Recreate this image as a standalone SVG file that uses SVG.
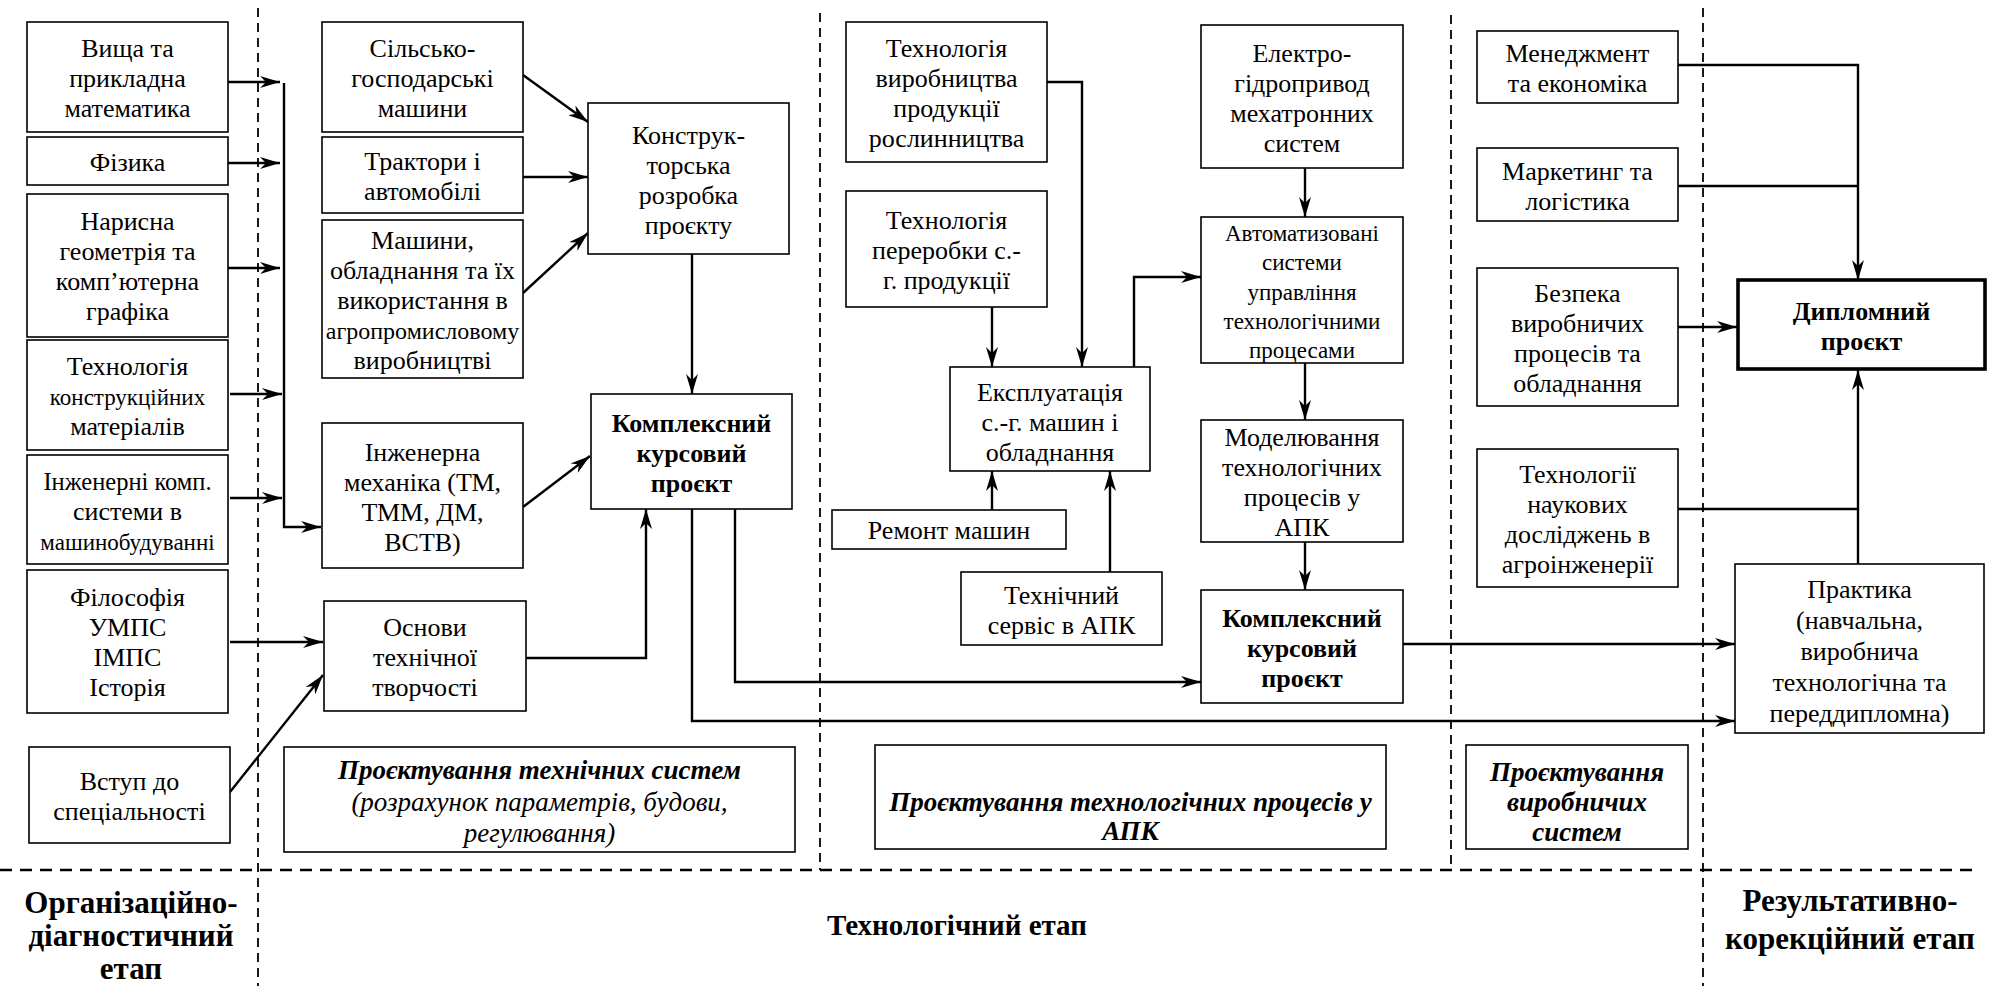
<svg xmlns="http://www.w3.org/2000/svg" width="1993" height="986" viewBox="0 0 1993 986">
<style>
.bg{fill:#fff}
.box{fill:#fff;stroke:#000;stroke-width:1.6}
.thick{stroke-width:3.6}
.t{font-family:"Liberation Serif","Times New Roman",serif;font-size:26px;text-anchor:middle;fill:#000}
.b{font-weight:bold}
.i{font-style:italic}
.s{font-size:23px}
.it{font-size:27px}
.lab{font-size:29px;font-weight:bold}
.lab2{font-size:31px;font-weight:bold}
.c{fill:none;stroke:#000;stroke-width:2.4}
.dv{fill:none;stroke:#000;stroke-width:1.8;stroke-dasharray:9 6}
.dh{fill:none;stroke:#000;stroke-width:2.4;stroke-dasharray:12 8}
</style>
<defs>
<marker id="ah" viewBox="0 0 20 12" refX="20" refY="6" markerWidth="20" markerHeight="12" markerUnits="userSpaceOnUse" orient="auto">
<path d="M0,0 L20,6 L0,12 L6,6 Z" fill="#000"/>
</marker>
</defs>
<rect class="bg" x="0" y="0" width="1993" height="986"/>

<g id="dividers">
<line class="dv" x1="258" y1="8" x2="258" y2="986"/>
<line class="dv" x1="820" y1="13" x2="820" y2="870"/>
<line class="dv" x1="1451" y1="15" x2="1451" y2="870"/>
<line class="dv" x1="1703" y1="8" x2="1703" y2="986"/>
<line class="dh" x1="0" y1="870" x2="1975" y2="870"/>
</g>

<g id="connectors">
<line class="c" x1="228" y1="82" x2="280" y2="82" marker-end="url(#ah)"/>
<line class="c" x1="228" y1="163" x2="280" y2="163" marker-end="url(#ah)"/>
<line class="c" x1="228" y1="268" x2="280" y2="268" marker-end="url(#ah)"/>
<line class="c" x1="230" y1="394" x2="282" y2="394" marker-end="url(#ah)"/>
<line class="c" x1="230" y1="498" x2="282" y2="498" marker-end="url(#ah)"/>
<polyline class="c" points="284,83 284,527 321,527" marker-end="url(#ah)"/>
<line class="c" x1="230" y1="642" x2="323" y2="642" marker-end="url(#ah)"/>
<line class="c" x1="230" y1="792" x2="323" y2="675" marker-end="url(#ah)"/>
<line class="c" x1="523" y1="75" x2="588" y2="122" marker-end="url(#ah)"/>
<line class="c" x1="523" y1="177" x2="588" y2="177" marker-end="url(#ah)"/>
<line class="c" x1="523" y1="293" x2="588" y2="233" marker-end="url(#ah)"/>
<line class="c" x1="692" y1="254" x2="692" y2="394" marker-end="url(#ah)"/>
<line class="c" x1="523" y1="507" x2="590" y2="456" marker-end="url(#ah)"/>
<polyline class="c" points="526,658 646,658 646,509" marker-end="url(#ah)"/>
<polyline class="c" points="735,509 735,682 1201,682" marker-end="url(#ah)"/>
<polyline class="c" points="692,509 692,721 1735,721" marker-end="url(#ah)"/>
<polyline class="c" points="1047,82 1082,82 1082,367" marker-end="url(#ah)"/>
<line class="c" x1="992" y1="307" x2="992" y2="367" marker-end="url(#ah)"/>
<line class="c" x1="992" y1="510" x2="992" y2="471" marker-end="url(#ah)"/>
<line class="c" x1="1110" y1="572" x2="1110" y2="471" marker-end="url(#ah)"/>
<polyline class="c" points="1134,367 1134,277 1201,277" marker-end="url(#ah)"/>
<line class="c" x1="1305" y1="168" x2="1305" y2="217" marker-end="url(#ah)"/>
<line class="c" x1="1305" y1="363" x2="1305" y2="420" marker-end="url(#ah)"/>
<line class="c" x1="1305" y1="542" x2="1305" y2="590" marker-end="url(#ah)"/>
<line class="c" x1="1403" y1="644" x2="1735" y2="644" marker-end="url(#ah)"/>
<polyline class="c" points="1678,65 1858,65 1858,280" marker-end="url(#ah)"/>
<line class="c" x1="1678" y1="186" x2="1858" y2="186"/>
<line class="c" x1="1678" y1="327" x2="1737" y2="327" marker-end="url(#ah)"/>
<line class="c" x1="1678" y1="509" x2="1858" y2="509"/>
<line class="c" x1="1858" y1="564" x2="1858" y2="370" marker-end="url(#ah)"/>
</g>

<g id="n-vyshcha"><rect class="box" x="27" y="22" width="201" height="110"/>
<text class="t" x="127.5" y="57">Вища та</text><text class="t" x="127.5" y="87">прикладна</text><text class="t" x="127.5" y="117">математика</text></g>
<g id="n-fizyka"><rect class="box" x="27" y="137" width="201" height="48"/>
<text class="t" x="127.5" y="171">Фізика</text></g>
<g id="n-narysna"><rect class="box" x="27" y="194" width="201" height="143"/>
<text class="t" x="127.5" y="230">Нарисна</text><text class="t" x="127.5" y="260">геометрія та</text><text class="t" x="127.5" y="290">комп’ютерна</text><text class="t" x="127.5" y="320">графіка</text></g>
<g id="n-tkm"><rect class="box" x="27" y="340" width="201" height="110"/>
<text class="t" x="127.5" y="375">Технологія</text><text class="t s" x="127.5" y="405">конструкційних</text><text class="t" x="127.5" y="435">матеріалів</text></g>
<g id="n-iks"><rect class="box" x="27" y="455" width="201" height="109"/>
<text class="t" x="127.5" y="490" style="font-size:24.5px">Інженерні комп.</text><text class="t" x="127.5" y="520">системи в</text><text class="t s" x="127.5" y="550">машинобудуванні</text></g>
<g id="n-filosofiya"><rect class="box" x="27" y="570" width="201" height="143"/>
<text class="t" x="127.5" y="606">Філософія</text><text class="t" x="127.5" y="636">УМПС</text><text class="t" x="127.5" y="666">ІМПС</text><text class="t" x="127.5" y="696">Історія</text></g>
<g id="n-vstup"><rect class="box" x="29" y="747" width="201" height="96"/>
<text class="t" x="129.5" y="790">Вступ до</text><text class="t" x="129.5" y="820">спеціальності</text></g>

<g id="n-sgm"><rect class="box" x="322" y="22" width="201" height="110"/>
<text class="t" x="422.5" y="57">Сільсько-</text><text class="t" x="422.5" y="87">господарські</text><text class="t" x="422.5" y="117">машини</text></g>
<g id="n-traktory"><rect class="box" x="322" y="137" width="201" height="76"/>
<text class="t" x="422.5" y="170">Трактори і</text><text class="t" x="422.5" y="200">автомобілі</text></g>
<g id="n-mashyny"><rect class="box" x="322" y="220" width="201" height="158"/>
<text class="t" x="422.5" y="249">Машини,</text><text class="t" x="422.5" y="279">обладнання та їх</text><text class="t" x="422.5" y="309">використання в</text><text class="t" x="422.5" y="339" style="font-size:24px">агропромисловому</text><text class="t" x="422.5" y="369">виробництві</text></g>
<g id="n-inzhmekh"><rect class="box" x="322" y="423" width="201" height="145"/>
<text class="t" x="422.5" y="461">Інженерна</text><text class="t" x="422.5" y="491">механіка (ТМ,</text><text class="t" x="422.5" y="521">ТММ, ДМ,</text><text class="t" x="422.5" y="551">ВСТВ)</text></g>
<g id="n-osnovy"><rect class="box" x="324" y="601" width="202" height="110"/>
<text class="t" x="425" y="636">Основи</text><text class="t" x="425" y="666">технічної</text><text class="t" x="425" y="696">творчості</text></g>

<g id="n-konstruk"><rect class="box" x="588" y="103" width="201" height="151"/>
<text class="t" x="688.5" y="144">Конструк-</text><text class="t" x="688.5" y="174">торська</text><text class="t" x="688.5" y="204">розробка</text><text class="t" x="688.5" y="234">проєкту</text></g>
<g id="n-kkp1"><rect class="box" x="591" y="394" width="201" height="115"/>
<text class="t b" x="691.5" y="432">Комплексний</text><text class="t b" x="691.5" y="462">курсовий</text><text class="t b" x="691.5" y="492">проєкт</text></g>

<g id="n-tvpr"><rect class="box" x="846" y="22" width="201" height="140"/>
<text class="t" x="946.5" y="57">Технологія</text><text class="t" x="946.5" y="87">виробництва</text><text class="t" x="946.5" y="117">продукції</text><text class="t" x="946.5" y="147">рослинництва</text></g>
<g id="n-tpsg"><rect class="box" x="846" y="191" width="201" height="116"/>
<text class="t" x="946.5" y="229">Технологія</text><text class="t" x="946.5" y="259">переробки с.-</text><text class="t" x="946.5" y="289">г. продукції</text></g>
<g id="n-ekspl"><rect class="box" x="950" y="367" width="200" height="104"/>
<text class="t" x="1050" y="401">Експлуатація</text><text class="t" x="1050" y="431">с.-г. машин і</text><text class="t" x="1050" y="461">обладнання</text></g>
<g id="n-remont"><rect class="box" x="832" y="510" width="234" height="39"/>
<text class="t" x="949" y="539">Ремонт машин</text></g>
<g id="n-servis"><rect class="box" x="961" y="572" width="201" height="73"/>
<text class="t" x="1061.5" y="604">Технічний</text><text class="t" x="1061.5" y="634">сервіс в АПК</text></g>

<g id="n-elektro"><rect class="box" x="1201" y="25" width="202" height="143"/>
<text class="t" x="1302" y="62">Електро-</text><text class="t" x="1302" y="92">гідропривод</text><text class="t" x="1302" y="122">мехатронних</text><text class="t" x="1302" y="152">систем</text></g>
<g id="n-asu"><rect class="box" x="1201" y="217" width="202" height="146"/>
<text class="t s" x="1302" y="241">Автоматизовані</text><text class="t s" x="1302" y="270">системи</text><text class="t s" x="1302" y="300">управління</text><text class="t s" x="1302" y="329">технологічними</text><text class="t s" x="1302" y="358">процесами</text></g>
<g id="n-model"><rect class="box" x="1201" y="420" width="202" height="122"/>
<text class="t" x="1302" y="446">Моделювання</text><text class="t" x="1302" y="476">технологічних</text><text class="t" x="1302" y="506">процесів у</text><text class="t" x="1302" y="536">АПК</text></g>
<g id="n-kkp2"><rect class="box" x="1201" y="590" width="202" height="113"/>
<text class="t b" x="1302" y="627">Комплексний</text><text class="t b" x="1302" y="657">курсовий</text><text class="t b" x="1302" y="687">проєкт</text></g>

<g id="n-menedzh"><rect class="box" x="1477" y="31" width="201" height="72"/>
<text class="t" x="1577.5" y="62">Менеджмент</text><text class="t" x="1577.5" y="92">та економіка</text></g>
<g id="n-marketing"><rect class="box" x="1477" y="148" width="201" height="73"/>
<text class="t" x="1577.5" y="180">Маркетинг та</text><text class="t" x="1577.5" y="210">логістика</text></g>
<g id="n-bezpeka"><rect class="box" x="1477" y="268" width="201" height="138"/>
<text class="t" x="1577.5" y="302">Безпека</text><text class="t" x="1577.5" y="332">виробничих</text><text class="t" x="1577.5" y="362">процесів та</text><text class="t" x="1577.5" y="392">обладнання</text></g>
<g id="n-tnd"><rect class="box" x="1477" y="449" width="201" height="138"/>
<text class="t" x="1577.5" y="483">Технології</text><text class="t" x="1577.5" y="513">наукових</text><text class="t" x="1577.5" y="543">досліджень в</text><text class="t" x="1577.5" y="573">агроінженерії</text></g>

<g id="n-dyplom"><rect class="box thick" x="1738" y="280" width="247" height="89"/>
<text class="t b" x="1861.5" y="320">Дипломний</text><text class="t b" x="1861.5" y="350">проєкт</text></g>
<g id="n-praktyka"><rect class="box" x="1735" y="564" width="249" height="169"/>
<text class="t" x="1859.5" y="598">Практика</text><text class="t" x="1859.5" y="629">(навчальна,</text><text class="t" x="1859.5" y="660">виробнича</text><text class="t" x="1859.5" y="691">технологічна та</text><text class="t" x="1859.5" y="722">переддипломна)</text></g>

<g id="n-pts"><rect class="box" x="284" y="747" width="511" height="105"/>
<text class="t it b i" x="539.5" y="779">Проєктування технічних систем</text><text class="t it i" x="539.5" y="811">(розрахунок параметрів, будови,</text><text class="t it i" x="539.5" y="842">регулювання)</text></g>
<g id="n-ptp"><rect class="box" x="875" y="745" width="511" height="104"/>
<text class="t it b i" x="1130.5" y="811">Проєктування технологічних процесів у</text><text class="t it b i" x="1130.5" y="840">АПК</text></g>
<g id="n-pvs"><rect class="box" x="1466" y="745" width="222" height="104"/>
<text class="t it b i" x="1577" y="781">Проєктування</text><text class="t it b i" x="1577" y="811">виробничих</text><text class="t it b i" x="1577" y="841">систем</text></g>

<g id="stage-labels">
<text class="t lab2" x="131" y="913">Організаційно-</text><text class="t lab2" x="131" y="946">діагностичний</text><text class="t lab2" x="131" y="979">етап</text>
<text class="t lab" x="957" y="935">Технологічний етап</text>
<text class="t lab2" x="1850" y="911">Результативно-</text><text class="t lab2" x="1850" y="949">корекційний етап</text>
</g>
</svg>
